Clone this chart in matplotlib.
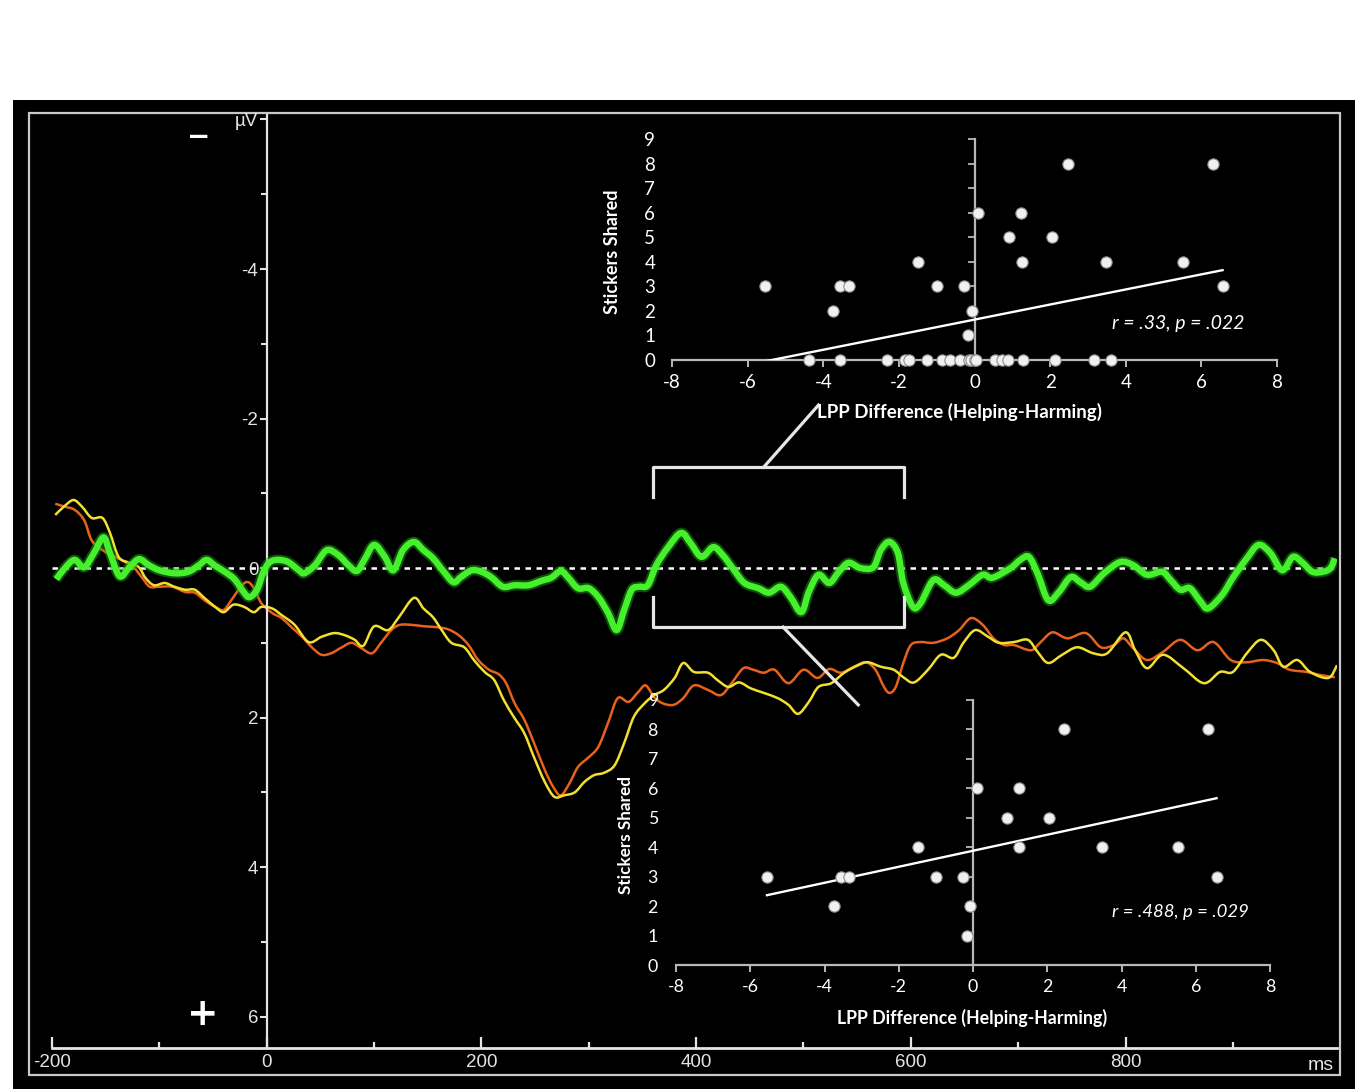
import numpy as np
import matplotlib
matplotlib.use('Agg')
import matplotlib.pyplot as plt
from matplotlib.patches import Rectangle, PathPatch
from matplotlib.path import Path

# ---- ERP waveforms (time in ms, amplitude in microvolts, negative up) ----
green_t = [-196, -188, -179, -170, -161, -152, -146, -137, -128, -119,
           -110, -100, -86, -73, -63, -56, -48, -39, -30, -21,
           -16, -9, -3, 3, 11, 20, 30, 35, 45, 56,
           67, 76, 84, 91, 100, 110, 118, 127, 137, 146,
           155, 165, 174, 181, 191, 200, 209, 220, 231, 244,
           256, 265, 274, 281, 290, 300, 309, 318, 326, 333,
           340, 347, 355, 363, 374, 386, 395, 405, 416, 425,
           434, 445, 458, 468, 479, 488, 498, 505, 514, 524,
           533, 542, 553, 565, 572, 580, 588, 593, 602, 609,
           621, 631, 642, 654, 667, 676, 693, 702, 710, 718,
           728, 738, 749, 758, 767, 780, 795, 807, 820, 834,
           842, 851, 860, 870, 877, 890, 900, 913, 924, 935,
           946, 956, 965, 974, 984, 991, 995]
green_uv = [0.15, 0.00, -0.11, -0.01, -0.20, -0.41, -0.20, 0.11, -0.01, -0.12,
            -0.04, 0.03, 0.07, 0.05, -0.04, -0.11, -0.03, 0.05, 0.15, 0.33,
            0.39, 0.29, 0.05, -0.08, -0.11, -0.08, 0.03, 0.07, -0.04, -0.24,
            -0.17, -0.04, 0.04, -0.11, -0.31, -0.15, 0.03, -0.24, -0.35, -0.24,
            -0.13, 0.05, 0.19, 0.12, 0.03, 0.05, 0.12, 0.25, 0.23, 0.23,
            0.17, 0.13, 0.04, 0.13, 0.27, 0.27, 0.39, 0.60, 0.83, 0.56,
            0.29, 0.25, 0.23, -0.04, -0.28, -0.47, -0.33, -0.15, -0.28, -0.17,
            0.00, 0.20, 0.27, 0.33, 0.25, 0.39, 0.59, 0.32, 0.09, 0.20,
            0.05, -0.07, 0.00, -0.01, -0.24, -0.35, -0.20, 0.20, 0.52, 0.47,
            0.16, 0.23, 0.33, 0.23, 0.09, 0.13, 0.00, -0.11, -0.15, 0.07,
            0.43, 0.32, 0.12, 0.19, 0.25, 0.07, -0.08, -0.04, 0.09, 0.05,
            0.16, 0.29, 0.27, 0.45, 0.54, 0.36, 0.13, -0.13, -0.31, -0.20,
            0.03, -0.15, -0.07, 0.05, 0.05, 0.00, -0.13]

orange_t = [-197, -188, -179, -170, -163, -153, -141, -132, -124, -116,
            -109, -100, -88, -76, -67, -58, -48, -40, -33, -23,
            -17, -11, -5, 5, 14, 23, 33, 42, 51, 60,
            70, 79, 88, 98, 107, 116, 124, 135, 147, 158,
            169, 179, 188, 197, 207, 216, 223, 231, 240, 249,
            259, 267, 274, 282, 290, 300, 309, 318, 327, 337,
            346, 353, 361, 369, 379, 388, 398, 411, 423, 433,
            444, 453, 463, 473, 486, 500, 513, 524, 535, 547,
            558, 567, 575, 580, 586, 593, 600, 609, 621, 634,
            645, 656, 667, 677, 687, 696, 712, 721, 732, 746,
            763, 777, 789, 798, 807, 820, 835, 851, 867, 882,
            898, 913, 928, 941, 953, 969, 981, 995]
orange_uv = [-0.86, -0.82, -0.78, -0.64, -0.37, -0.24, -0.15, -0.08, -0.01, 0.13,
             0.25, 0.25, 0.25, 0.32, 0.33, 0.43, 0.52, 0.56, 0.43, 0.23,
             0.19, 0.29, 0.47, 0.60, 0.67, 0.79, 0.92, 1.06, 1.16, 1.14,
             1.06, 1.00, 1.07, 1.14, 0.99, 0.83, 0.76, 0.76, 0.78, 0.79,
             0.82, 0.90, 1.03, 1.23, 1.36, 1.42, 1.54, 1.81, 2.03, 2.34,
             2.70, 2.93, 3.04, 2.88, 2.66, 2.53, 2.39, 2.07, 1.74, 1.79,
             1.66, 1.57, 1.73, 1.81, 1.83, 1.74, 1.57, 1.63, 1.70, 1.54,
             1.34, 1.36, 1.40, 1.36, 1.54, 1.36, 1.47, 1.35, 1.40, 1.32,
             1.26, 1.36, 1.59, 1.67, 1.59, 1.27, 1.03, 0.99, 1.00, 0.94,
             0.83, 0.67, 0.76, 0.94, 1.03, 1.03, 1.10, 0.99, 0.86, 0.94,
             0.87, 1.06, 1.03, 0.94, 1.07, 1.23, 1.12, 0.96, 1.10, 0.99,
             1.23, 1.26, 1.23, 1.27, 1.36, 1.39, 1.43, 1.46]

yellow_t = [-197, -189, -180, -172, -163, -153, -146, -138, -128, -119,
            -113, -105, -95, -86, -76, -67, -58, -48, -40, -31,
            -21, -12, -5, 5, 14, 26, 39, 51, 63, 73,
            82, 90, 100, 113, 123, 137, 146, 155, 163, 172,
            184, 193, 203, 212, 221, 231, 240, 249, 259, 268,
            277, 287, 296, 305, 314, 324, 333, 342, 352, 361,
            370, 380, 388, 398, 411, 420, 430, 440, 451, 463,
            476, 486, 495, 505, 514, 526, 538, 551, 560, 572,
            584, 593, 603, 616, 628, 640, 649, 660, 672, 682,
            696, 709, 718, 728, 741, 755, 770, 783, 800, 809,
            820, 835, 854, 873, 888, 900, 913, 926, 938, 947,
            960, 972, 989, 997]
yellow_uv = [-0.71, -0.82, -0.91, -0.82, -0.67, -0.67, -0.47, -0.15, -0.07, -0.01,
             0.13, 0.23, 0.20, 0.25, 0.29, 0.29, 0.40, 0.52, 0.59, 0.49,
             0.52, 0.59, 0.52, 0.54, 0.63, 0.76, 0.99, 0.92, 0.87, 0.90,
             0.96, 1.04, 0.78, 0.83, 0.66, 0.40, 0.54, 0.66, 0.83, 1.00,
             1.06, 1.23, 1.39, 1.50, 1.77, 2.01, 2.21, 2.53, 2.86, 3.06,
             3.04, 3.00, 2.86, 2.77, 2.74, 2.64, 2.34, 1.99, 1.81, 1.70,
             1.63, 1.47, 1.27, 1.39, 1.40, 1.50, 1.59, 1.53, 1.61, 1.67,
             1.74, 1.83, 1.95, 1.79, 1.59, 1.54, 1.40, 1.30, 1.26, 1.32,
             1.36, 1.46, 1.53, 1.36, 1.16, 1.20, 1.00, 0.83, 0.92, 1.00,
             0.99, 0.96, 1.12, 1.27, 1.16, 1.06, 1.14, 1.14, 0.86, 1.10,
             1.34, 1.16, 1.34, 1.54, 1.39, 1.39, 1.14, 0.96, 1.10, 1.32,
             1.23, 1.39, 1.47, 1.30]

erp_xticks = [-200, 0, 200, 400, 600, 800]
erp_yticks = [-6, -4, -2, 0, 2, 4, 6]
erp_ylabels = ['µV', '-4', '-2', '0', '2', '4', '6']

# ---- scatter insets: LPP difference vs stickers shared ----
# participants who shared at least one sticker (shown in both insets)
lpp_sharers = [-5.55, -3.75, -3.55, -3.33, -1.49, -1.00, -0.27, -0.17, -0.07, 0.10,
               0.92, 1.23, 1.25, 2.06, 2.46, 3.48, 5.52, 6.32, 6.56]
stickers_sharers = [3, 2, 3, 3, 4, 3, 3, 1, 2, 6,
                    5, 6, 4, 5, 8, 4, 4, 8, 3]
# participants who shared none (only in the top inset)
lpp_nonsharers = [-4.37, -3.56, -2.31, -1.83, -1.74, -1.26, -0.86, -0.65, -0.38, -0.15,
                  -0.08, 0.00, 0.05, 0.53, 0.73, 0.88, 1.27, 2.13, 3.15, 3.61]

fit_all = (0.307, 1.645)       # slope, intercept of the top fit line
fit_sharers = (0.272, 3.88)    # slope, intercept of the bottom fit line
r_all = 'r = .33, p = .022'
r_sharers = 'r = .488, p = .029'

W, H = 1368, 1089
LINE = '#e4e4e4'


def fig_box(left, top, right, bottom):
    return [left / W, 1 - bottom / H, (right - left) / W, (bottom - top) / H]


def fig_xy(x, y):
    return x / W, 1 - y / H


def smooth_trace(ax, t, v, **kw):
    # draw the sampled points joined by Catmull-Rom style cubic segments,
    # the curve passes through every point, nothing is resampled
    p = np.column_stack([t, v]).astype(float)
    verts = [p[0]]
    codes = [Path.MOVETO]
    for i in range(len(p) - 1):
        p0 = p[i - 1] if i > 0 else p[i]
        p3 = p[i + 2] if i + 2 < len(p) else p[i + 1]
        c1 = p[i] + (p[i + 1] - p0) / 6.0
        c2 = p[i + 1] - (p3 - p[i]) / 6.0
        verts += [c1, c2, p[i + 1]]
        codes += [Path.CURVE4] * 3
    patch = PathPatch(Path(verts, codes), facecolor='none', **kw)
    ax.add_patch(patch)
    return patch


plt.rcParams['font.family'] = ['Liberation Sans', 'DejaVu Sans']
plt.rcParams['axes.unicode_minus'] = False

fig = plt.figure(figsize=(W / 100, H / 100), dpi=100)
fig.patch.set_facecolor('white')
fig.add_artist(Rectangle(fig_xy(13, 1089), (1355 - 13) / W, (1089 - 100) / H,
                         transform=fig.transFigure, facecolor='black',
                         edgecolor='none', zorder=-10))
fig.add_artist(Rectangle(fig_xy(29, 1075), (1340 - 29) / W, (1075 - 113) / H,
                         transform=fig.transFigure, facecolor='none',
                         edgecolor='#c8c8c8', lw=1.6, zorder=-5))

# ---- main ERP axes ----
ax = fig.add_axes(fig_box(52, 115, 1337, 1048))
ax.set_facecolor('none')
ax.set_xlim(-200, 997)
ax.set_ylim(6.42, -6.06)

ax.axhline(0, color='white', lw=1.8, dashes=(2.2, 2.2), zorder=1)
smooth_trace(ax, orange_t, orange_uv, edgecolor='#e8621c', lw=1.8, zorder=2)
smooth_trace(ax, yellow_t, yellow_uv, edgecolor='#f2e030', lw=1.8, zorder=2.5)
smooth_trace(ax, green_t, green_uv, edgecolor='#1e9e12', lw=7.5, alpha=0.5,
             joinstyle='round', zorder=3)
smooth_trace(ax, green_t, green_uv, edgecolor='#46f02c', lw=4.6,
             joinstyle='round', zorder=4)

for s in ('top', 'right'):
    ax.spines[s].set_visible(False)
ax.spines['left'].set_position(('data', 0))
ax.spines['left'].set_color(LINE)
ax.spines['left'].set_linewidth(1.6)
ax.spines['bottom'].set_color(LINE)
ax.spines['bottom'].set_linewidth(2)

ax.set_xticks(erp_xticks)
ax.set_xticks([t + 100 for t in erp_xticks], minor=True)
ax.set_yticks(erp_yticks)
ax.set_yticklabels(erp_ylabels)
ax.set_yticks([v + 1 for v in erp_yticks[:-1]], minor=True)
ax.tick_params(axis='x', which='major', direction='in', length=8, width=1.6,
               color=LINE, labelcolor=LINE, labelsize=13.5, pad=4)
ax.tick_params(axis='x', which='minor', direction='in', length=4, width=1.6,
               color=LINE)
ax.tick_params(axis='y', which='major', direction='out', length=5, width=1.5,
               color=LINE, labelcolor=LINE, labelsize=13.5, pad=1)
ax.tick_params(axis='y', which='minor', direction='out', length=4, width=1.5,
               color=LINE)

# zoom brackets linking the 360-595 ms window to the insets
br = dict(color='#e6e6e6', lw=2.3, clip_on=False, zorder=5)
ax.plot([360, 360, 594, 594], [-0.95, -1.35, -1.35, -0.95], **br)
ax.plot([463, 514], [-1.35, -2.18], **br)
ax.plot([360, 360, 594, 594], [0.39, 0.79, 0.79, 0.39], **br)
ax.plot([481, 551], [0.79, 1.83], **br)

fig.text(*fig_xy(199, 137), '−', color='white', fontsize=20, fontweight='bold',
         ha='center', va='center', family='DejaVu Sans')
fig.text(*fig_xy(203, 1015), '+', color='white', fontsize=27, fontweight='bold',
         ha='center', va='center', family='DejaVu Sans')
fig.text(*fig_xy(1321, 1066), 'ms', color=LINE, fontsize=14,
         ha='center', va='center')


def draw_inset(box, xs, ys, fit, rtext, rpos, xlab_pos, ylab_x, ypad, fs):
    a = fig.add_axes(fig_box(*box))
    a.set_facecolor('none')
    a.set_xlim(-8, 8)
    a.set_ylim(0, 9)
    a.scatter(xs, ys, s=66, c='#f0f0f0', edgecolors='#8c8c8c',
              linewidths=0.8, zorder=4, clip_on=False)
    fx = np.array([min(xs), max(xs)])
    a.plot(fx, fit[0] * fx + fit[1], color='white', lw=1.7, zorder=3)
    for s in ('top', 'right', 'left'):
        a.spines[s].set_visible(False)
    a.spines['bottom'].set_color('#b8b8b8')
    a.spines['bottom'].set_linewidth(1.6)
    yt = np.arange(10)
    a.plot([0, 0], [0, 9], color='#b8b8b8', lw=1.6, clip_on=False, zorder=2)
    a.plot(np.zeros_like(yt), yt, ls='none', marker=0, ms=5, mew=1.3,
           color='#b8b8b8', clip_on=False, zorder=2)
    a.set_xticks(range(-8, 9, 2))
    a.set_yticks(yt)
    a.tick_params(axis='x', direction='out', length=5, width=1.4,
                  color='#b8b8b8', labelcolor='white', labelsize=fs, pad=5)
    a.tick_params(axis='y', length=0, labelcolor='white', labelsize=fs,
                  pad=ypad)
    for lab in a.get_xticklabels() + a.get_yticklabels():
        lab.set_family('Lato')
    a.text(xlab_pos[0], xlab_pos[1], 'LPP Difference (Helping-Harming)',
           transform=a.transAxes, ha='center', va='center', color='white',
           fontsize=fs, fontweight='bold', family='Lato')
    a.text(ylab_x, 0.49, 'Stickers Shared', transform=a.transAxes,
           rotation=90, ha='center', va='center', color='white',
           fontsize=fs - 0.5, fontweight='bold', family='Lato')
    a.text(rpos[0], rpos[1], rtext, ha='center', va='center', color='white',
           fontsize=fs + 0.5, style='italic', family='Lato')
    return a


draw_inset((672, 139, 1277, 360), lpp_sharers + lpp_nonsharers,
           stickers_sharers + [0] * len(lpp_nonsharers), fit_all,
           r_all, (5.4, 1.5), (0.476, -0.235), -0.099, 12, 13.5)
draw_inset((676, 700, 1270, 965), lpp_sharers, stickers_sharers, fit_sharers,
           r_sharers, (5.58, 1.8), (0.498, -0.2), -0.084, 13, 12.8)

fig.savefig('out.png', dpi=100, facecolor=fig.get_facecolor())
